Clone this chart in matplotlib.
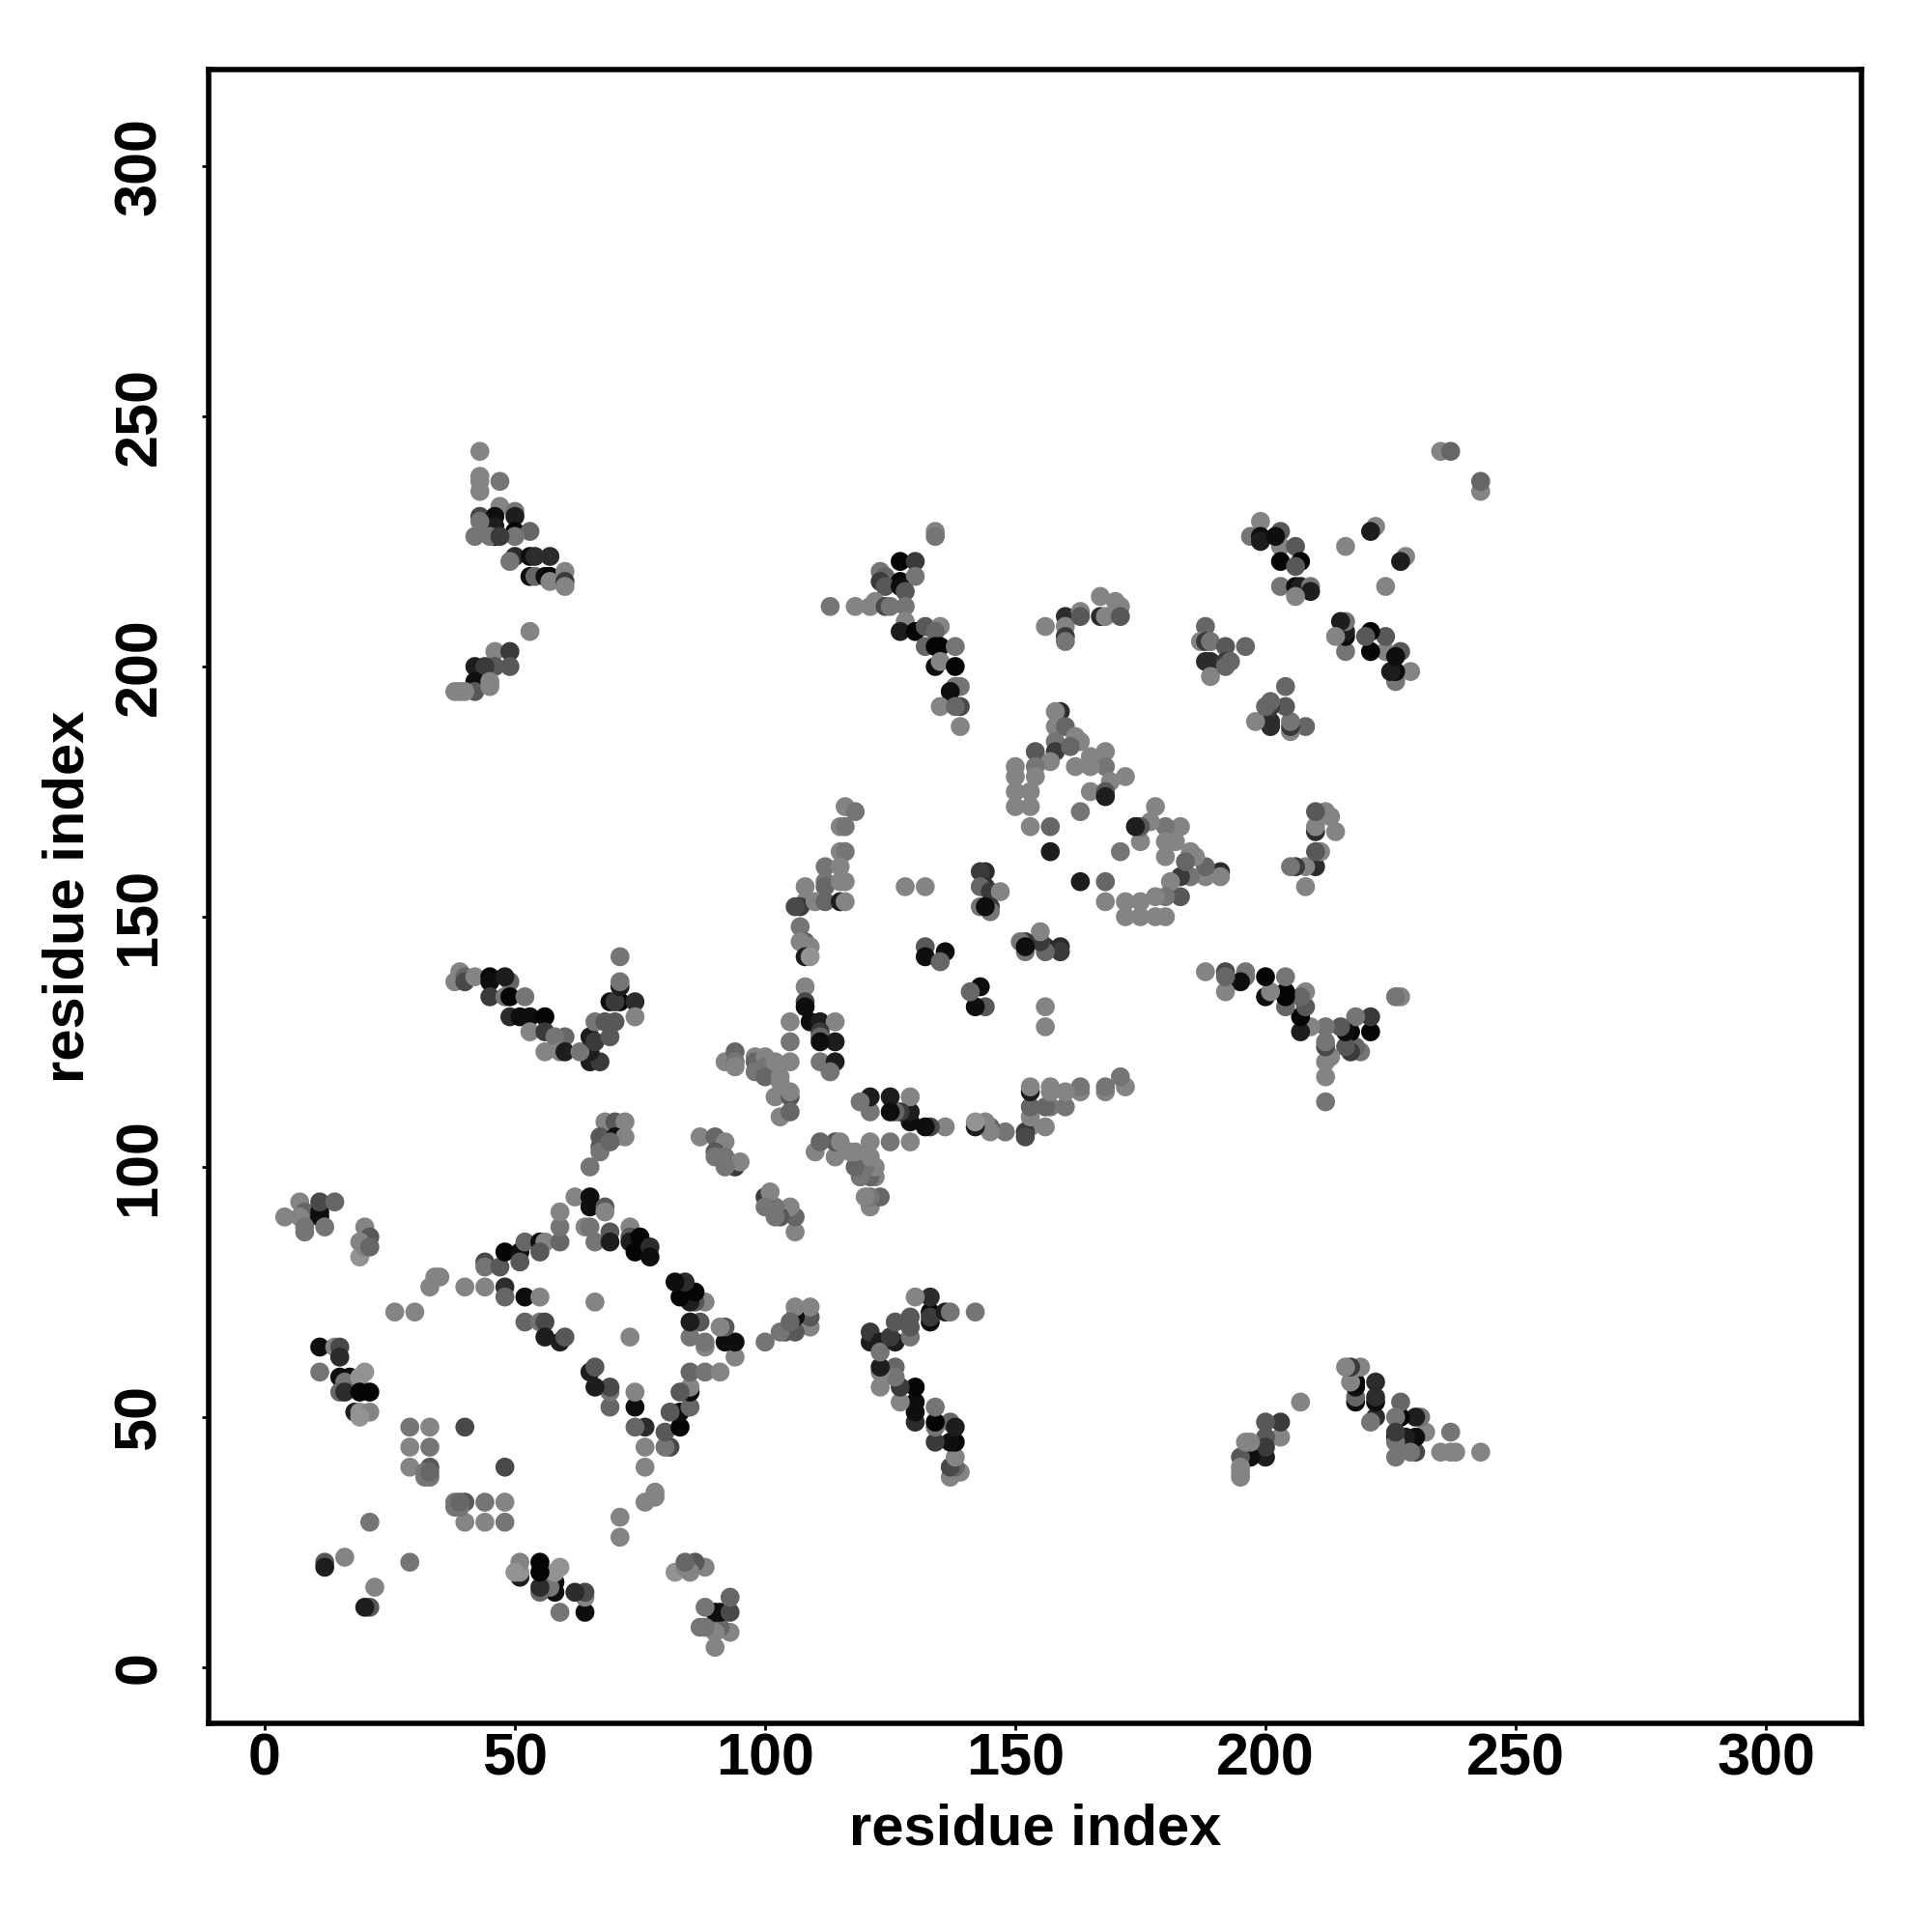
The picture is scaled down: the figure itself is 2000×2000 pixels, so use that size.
import numpy as np
import matplotlib
matplotlib.use("Agg")
import matplotlib.pyplot as plt

# contact map, only the half with res_i < res_j, the rest is its mirror
res_i = [
    4, 7, 8, 8, 11, 11, 11, 14, 12, 7, 8, 20, 21, 19, 19, 20, 21,
    11, 14, 15, 15, 11, 15, 17, 16, 20, 19, 15, 16, 19, 21, 18, 19, 21, 19,
    29, 33, 40, 29, 33, 29, 33, 32, 33, 32, 33,
    12, 12, 16, 21, 26, 30, 33, 34, 35,
    40, 44, 48, 48, 52, 55, 52, 55, 56, 56, 59, 60, 66,
    44, 44, 47, 48, 51, 51, 52, 55, 56, 55, 59, 59, 59,
    62, 65, 65, 68, 68, 64, 65, 69, 66, 69, 73, 73, 73, 75, 74, 77, 77,
    39, 38, 40, 40, 42, 45, 45, 45, 49, 48, 48, 49, 52, 49, 51, 53, 56, 53, 56, 60, 58, 56, 59, 60,
    65, 67, 65, 63, 65, 66, 69, 66, 68, 70, 69, 71, 70, 74, 74, 71, 71, 71,
    65, 68, 70, 72, 67, 70, 72, 67, 67, 69,
    87, 90, 92, 90, 90, 92, 94, 95, 92,
    92, 94, 94, 94, 98, 98, 98, 100, 100, 100, 102, 103, 103, 105, 102, 105, 105, 103, 105,
    105, 105, 108, 108, 108, 109, 111, 114, 111, 111, 114, 111, 111, 114, 113,
    107, 108, 107, 109, 108, 109,
    116, 118, 115, 116, 115, 116, 112, 115, 108, 112, 112, 115, 116,
    108, 107, 106, 110, 112, 115, 116,
    128, 132, 144, 143, 144, 143, 145, 147, 145, 143, 145, 144,
    132, 132, 136, 135, 157, 157, 163,
    159, 158, 158, 160, 158, 162, 163, 158, 154, 161, 157, 154, 150, 150, 154, 150, 153, 150, 153, 153,
    165, 168, 168, 162, 165, 165, 169, 172, 168, 168,
    43, 43, 43, 43, 47, 47, 50, 50, 43, 46, 42, 46, 46, 50, 53, 50, 43, 45, 47,
    50, 49, 53, 54, 57, 53, 54, 56, 57, 57, 60, 60, 60,
    53, 46, 49, 42, 46, 49, 44, 42, 42, 45, 45, 38, 39, 40,
    134, 134, 127, 130, 123, 124, 127, 130, 123, 124, 127, 128,
    113, 118, 121, 122, 124, 125, 128, 128, 127, 130, 132, 135, 134,
    132, 134, 135, 138, 134, 135, 138, 138, 139, 137, 135, 139, 138, 139,
    156, 160, 160, 160, 160, 163, 163, 167, 167, 168, 170, 171, 171,
    235, 237, 199, 197, 199, 199, 203, 203, 202, 206, 203, 207, 206,
    203, 206, 207, 209, 209, 206, 222, 221, 216,
    188, 187, 188, 189, 192, 196, 188, 189, 192, 193, 189, 192,
]
res_j = [
    90, 93, 91, 87, 91, 90, 93, 93, 88, 90, 88, 88, 86, 82, 85, 84, 84,
    64, 64, 64, 62, 59, 58, 58, 57, 59, 58, 55, 55, 55, 55, 51, 51, 51, 50,
    48, 48, 48, 44, 44, 40, 40, 38, 38, 39, 39,
    21, 20, 22, 29, 71, 71, 76, 78, 78,
    76, 76, 76, 74, 74, 74, 69, 69, 69, 66, 65, 66, 73,
    81, 80, 80, 83, 83, 81, 85, 85, 85, 83, 85, 88, 91,
    94, 94, 92, 92, 91, 88, 88, 87, 85, 85, 88, 86, 85, 86, 83, 84, 82,
    139, 137, 138, 137, 138, 138, 137, 134, 137, 138, 134, 134, 134, 130, 130, 130, 130, 127, 127, 126, 126, 123, 123, 123,
    121, 121, 123, 123, 126, 125, 126, 129, 129, 129, 133, 133, 133, 133, 130, 136, 137, 142,
    100, 109, 109, 109, 106, 106, 106, 104, 103, 105,
    106, 106, 105, 103, 102, 102, 100, 101, 100,
    121, 123, 121, 120, 122, 121, 119, 122, 120, 118, 121, 118, 117, 121, 114, 114, 115, 110, 111,
    129, 125, 136, 133, 132, 129, 129, 129, 127, 126, 125, 125, 121, 121, 119,
    148, 145, 145, 144, 142, 142,
    172, 171, 168, 168, 163, 163, 160, 160, 156, 157, 156, 157, 157,
    153, 152, 152, 153, 153, 153, 153,
    156, 156, 159, 159, 156, 156, 155, 155, 152, 152, 151, 152,
    144, 142, 143, 141, 168, 163, 171,
    191, 191, 188, 188, 185, 186, 185, 183, 183, 184, 181, 180, 180, 178, 178, 175, 175, 172, 172, 168,
    182, 183, 180, 180, 180, 175, 177, 178, 175, 174,
    243, 238, 237, 235, 237, 232, 231, 230, 230, 230, 226, 226, 228, 227, 227, 226, 229, 226, 226,
    222, 221, 222, 222, 222, 218, 218, 218, 218, 217, 219, 217, 216,
    207, 203, 203, 200, 200, 200, 200, 197, 195, 197, 196, 195, 195, 195,
    227, 226, 221, 221, 219, 218, 217, 218, 217, 216, 216, 215,
    212, 212, 212, 213, 212, 212, 212, 209, 207, 207, 208, 208, 207,
    204, 204, 204, 204, 200, 201, 200, 196, 196, 195, 192, 192, 192, 188,
    208, 210, 208, 206, 205, 211, 210, 214, 210, 210, 213, 212, 210,
    243, 243, 229, 226, 226, 225, 227, 224, 226, 224, 221, 221, 220,
    216, 216, 216, 216, 215, 214, 228, 227, 224,
    208, 205, 205, 205, 204, 204, 201, 201, 201, 201, 198, 200,
]
grey = [
    .45, .45, .35, .4, .05, .05, .25, .35, .4, .45, .4, .45, .3, .5, .45, .45, .35,
    .05, .45, .25, .15, .4, .05, .05, .4, .5, .5, .35, .15, .02, .02, .1, .5, .45, .5,
    .4, .45, .25, .45, .4, .45, .3, .4, .4, .4, .35,
    .3, .1, .45, .4, .45, .45, .45, .45, .45,
    .45, .45, .15, .35, .05, .45, .35, .4, .25, .1, .1, .3, .45,
    .25, .4, .3, .02, .05, .3, .35, .05, .45, .3, .35, .4, .45,
    .45, .05, .05, .3, .45, .45, .4, .3, .4, .1, .45, .3, .1, .02, .02, .15, .05,
    .45, .45, .35, .25, .45, .02, .05, .2, .35, .1, .4, .02, .4, .15, .05, .05, .02, .45, .2, .35, .4, .45, .45, .1,
    .1, .2, .1, .4, .1, .2, .3, .4, .3, .3, .05, .02, .2, .15, .45, .1, .4, .4,
    .4, .45, .3, .45, .3, .05, .45, .3, .4, .35,
    .45, .35, .45, .3, .4, .4, .2, .45, .4,
    .45, .35, .4, .45, .45, .35, .4, .45, .4, .35, .45, .45, .45, .45, .45, .3, .45, .45, .35,
    .45, .4, .45, .25, .05, .05, .1, .45, .2, .35, .1, .05, .4, .1, .4,
    .4, .35, .45, .45, .1, .5,
    .45, .4, .45, .4, .45, .4, .4, .45, .45, .4, .35, .45, .45,
    .45, .2, .25, .45, .35, .1, .45,
    .45, .45, .15, .2, .15, .35, .2, .45, .2, .4, .4, .05,
    .3, .05, .05, .35, .35, .1, .4,
    .15, .45, .45, .35, .4, .45, .45, .2, .3, .35, .45, .4, .45, .45, .45, .45, .45, .45, .45, .45,
    .45, .45, .4, .45, .45, .45, .45, .45, .3, .1,
    .45, .45, .45, .45, .4, .45, .4, .1, .25, .05, .4, .05, .1, .02, .35, .4, .4, .4, .2,
    .15, .4, .05, .15, .15, .05, .35, .05, .02, .45, .45, .2, .45,
    .45, .45, .2, .1, .3, .3, .2, .05, .3, .45, .45, .45, .45, .45,
    .45, .4, .02, .2, .4, .35, .02, .4, .2, .3, .05, .3,
    .4, .45, .45, .45, .25, .4, .4, .45, .1, .02, .3, .45, .35,
    .35, .02, .02, .4, .05, .45, .02, .4, .4, .05, .45, .25, .35, .45,
    .45, .15, .45, .2, .4, .45, .3, .45, .15, .45, .45, .45, .3,
    .45, .35, .45, .4, .05, .1, .3, .45, .05, .3, .02, .02, .3,
    .4, .05, .1, .4, .1, .45, .45, .1, .45,
    .35, .45, .2, .4, .3, .35, .15, .15, .2, .35, .45, .35,
]
tick_values = [0, 50, 100, 150, 200, 250, 300]

plt.rcParams["font.family"] = ["Liberation Sans", "DejaVu Sans"]
plt.rcParams["font.weight"] = "bold"

fig = plt.figure(figsize=(10, 10), dpi=200)
ax = fig.add_axes([216 / 2000, 1 - 1784 / 2000, 1711 / 2000, 1712 / 2000])

x = np.array(res_i + res_j)
y = np.array(res_j + res_i)
c = np.array(grey + grey)
ax.scatter(x, y, c=c, cmap="gray", vmin=0, vmax=0.87, s=50, linewidths=0, zorder=3)

ax.set_xlim(-11.2, 319.1)
ax.set_ylim(-11.2, 319.3)
ax.set_xticks(tick_values)
ax.set_yticks(tick_values)
ax.tick_params(axis="x", length=2.6, width=1, labelsize=22, pad=1)
ax.tick_params(axis="y", length=2.6, width=1, labelsize=22, pad=12.5)
plt.setp(ax.get_yticklabels(), rotation=90, va="center")
for s in ax.spines.values():
    s.set_linewidth(2)
ax.set_xlabel("residue index", fontsize=21.5, fontweight="bold", labelpad=5.5)
ax.set_ylabel("residue index", fontsize=21.5, fontweight="bold", labelpad=6.5)

fig.savefig("out.png", dpi=200)
